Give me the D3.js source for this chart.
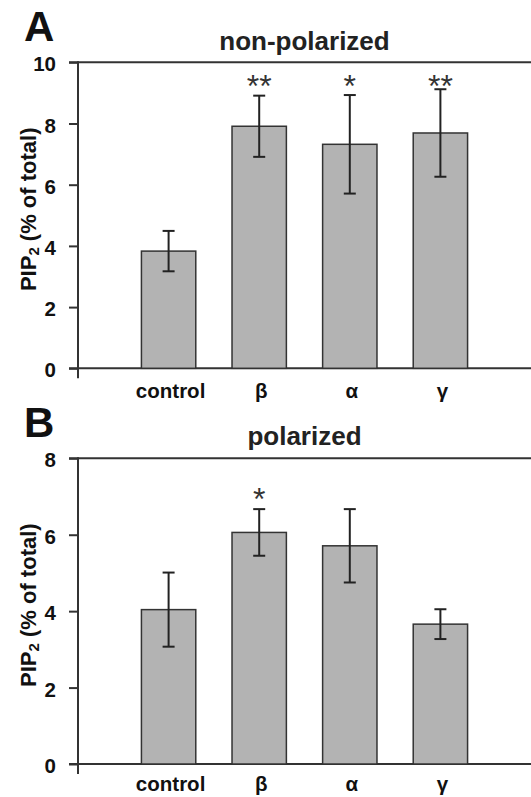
<!DOCTYPE html>
<html>
<head>
<meta charset="utf-8">
<script src="https://cdn.jsdelivr.net/npm/d3@7"></script>
<style>
  body { margin: 0; background: #fff; }
  svg { display: block; font-family: "Liberation Sans", Arial, sans-serif; }
</style>
</head>
<body>
<div class="chart"></div>
<script>
// Chart size
const width = 531;
const height = 797;
const axisX = 78;

// Data
const categories = ["control", "β", "α", "γ"];

const nonPolarizedMean = [3.83, 7.91, 7.32, 7.69];
const nonPolarizedErr = [0.66, 1.00, 1.61, 1.43];
const nonPolarizedStars = ["", "**", "*", "**"];

const polarizedMean = [4.04, 6.06, 5.71, 3.66];
const polarizedErr = [0.97, 0.61, 0.96, 0.39];
const polarizedStars = ["", "*", "", ""];

const nonPolarizedTicks = [0, 2, 4, 6, 8, 10];
const polarizedTicks = [0, 2, 4, 6, 8];

// Panel layout
const panels = [
    {letter: "A", title: "non-polarized", mean: nonPolarizedMean, err: nonPolarizedErr,
     stars: nonPolarizedStars, ticks: nonPolarizedTicks, yMax: 10, starLevel: 9.5,
     top: 62.3, bottom: 368.3, letterY: 41, titleY: 50, labelY: 398},
    {letter: "B", title: "polarized", mean: polarizedMean, err: polarizedErr,
     stars: polarizedStars, ticks: polarizedTicks, yMax: 8, starLevel: 7.15,
     top: 458.3, bottom: 764, letterY: 437, titleY: 445, labelY: 791}
];

const svg = d3.select(".chart")
    .append("svg")
    .attr("width", width)
    .attr("height", height);

// Horizontal scale shared by both panels
const x = d3.scaleBand()
    .domain(categories)
    .range([axisX + 45.3, axisX + 45.3 + 4 * 90.6])
    .paddingInner(0.4)
    .paddingOuter(0.2);

function drawPanel(p) {
    const g = svg.append("g");

    const y = d3.scaleLinear()
        .domain([0, p.yMax])
        .range([p.bottom, p.top]);

    const data = categories.map((c, i) => ({cat: c, mean: p.mean[i], err: p.err[i], star: p.stars[i]}));

    // Panel letter and title
    g.append("text")
        .attr("x", 24)
        .attr("y", p.letterY)
        .attr("font-size", 42)
        .attr("font-weight", "bold")
        .attr("fill", "#111")
        .text(p.letter);

    g.append("text")
        .attr("x", (axisX + width) / 2)
        .attr("y", p.titleY)
        .attr("text-anchor", "middle")
        .attr("font-size", 26)
        .attr("font-weight", "bold")
        .attr("fill", "#222")
        .text(p.title);

    // Frame top line and baseline
    g.append("line")
        .attr("x1", axisX - 9).attr("x2", width)
        .attr("y1", y(p.yMax)).attr("y2", y(p.yMax))
        .attr("stroke", "#333").attr("stroke-width", 2);

    g.append("line")
        .attr("x1", axisX - 9).attr("x2", width)
        .attr("y1", y(0)).attr("y2", y(0))
        .attr("stroke", "#333").attr("stroke-width", 2);

    // Bars
    g.selectAll("rect")
        .data(data)
        .join("rect")
        .attr("x", d => x(d.cat))
        .attr("y", d => y(d.mean))
        .attr("width", x.bandwidth())
        .attr("height", d => y(0) - y(d.mean))
        .attr("fill", "#b3b3b3")
        .attr("stroke", "#333")
        .attr("stroke-width", 1.5);

    // Error bars
    const eb = g.append("g")
        .attr("stroke", "#222")
        .attr("stroke-width", 2);

    eb.selectAll("line.v")
        .data(data)
        .join("line")
        .attr("class", "v")
        .attr("x1", d => x(d.cat) + x.bandwidth() / 2)
        .attr("x2", d => x(d.cat) + x.bandwidth() / 2)
        .attr("y1", d => y(d.mean + d.err))
        .attr("y2", d => y(d.mean - d.err));

    ["hi", "lo"].forEach(k => {
        eb.selectAll("line." + k)
            .data(data)
            .join("line")
            .attr("class", k)
            .attr("x1", d => x(d.cat) + x.bandwidth() / 2 - 6)
            .attr("x2", d => x(d.cat) + x.bandwidth() / 2 + 6)
            .attr("y1", d => y(k === "hi" ? d.mean + d.err : d.mean - d.err))
            .attr("y2", d => y(k === "hi" ? d.mean + d.err : d.mean - d.err));
    });

    // Significance stars
    g.selectAll("text.star")
        .data(data.filter(d => d.star))
        .join("text")
        .attr("class", "star")
        .attr("x", d => x(d.cat) + x.bandwidth() / 2)
        .attr("y", y(p.starLevel))
        .attr("dy", "0.6em")
        .attr("text-anchor", "middle")
        .attr("font-size", 32)
        .attr("fill", "#333")
        .text(d => d.star);

    // Vertical axis
    const axis = g.append("g")
        .attr("transform", `translate(${axisX}, 0)`)
        .call(d3.axisLeft(y).tickValues(p.ticks).tickSize(9).tickPadding(13));
    axis.select(".domain").remove();
    axis.selectAll(".tick line").attr("stroke", "#333").attr("stroke-width", 2);
    axis.selectAll(".tick text")
        .attr("font-size", 20.5)
        .attr("font-weight", "bold")
        .attr("font-family", "Liberation Sans, Arial, sans-serif")
        .attr("fill", "#111")
        .attr("dy", "0.42em");

    g.append("line")
        .attr("x1", axisX).attr("x2", axisX)
        .attr("y1", y(p.yMax) - 1).attr("y2", y(0) + 10)
        .attr("stroke", "#333").attr("stroke-width", 2);

    // Axis title
    const lab = g.append("text")
        .attr("transform", `translate(36, ${(p.top + p.bottom) / 2 - 6}) rotate(-90)`)
        .attr("text-anchor", "middle")
        .attr("font-size", 22)
        .attr("font-weight", "bold")
        .attr("fill", "#111");
    lab.append("tspan").text("PIP");
    lab.append("tspan").attr("font-size", 15).attr("dy", 3).text("2");
    lab.append("tspan").attr("dy", -3).text(" (% of total)");

    // Category labels
    g.selectAll("text.cat")
        .data(data)
        .join("text")
        .attr("class", "cat")
        .attr("x", d => x(d.cat) + x.bandwidth() / 2 + 2)
        .attr("y", p.labelY)
        .attr("text-anchor", "middle")
        .attr("font-size", 20.5)
        .attr("font-weight", "bold")
        .attr("fill", "#111")
        .text(d => d.cat);
}

panels.forEach(drawPanel);
</script>
</body>
</html>
